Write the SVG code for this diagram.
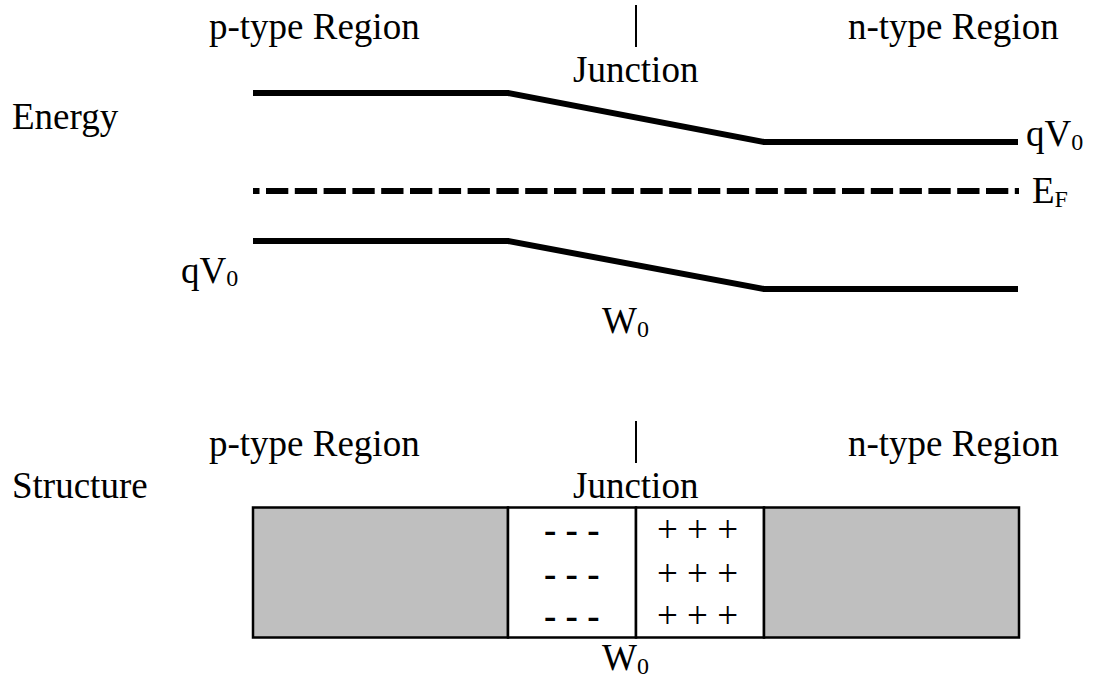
<svg xmlns="http://www.w3.org/2000/svg" width="1094" height="678" viewBox="0 0 1094 678">
  <style>
    .t { font-family: "Liberation Serif", "Times New Roman", serif; font-size: 37px; fill: #000; }
    .sub { font-size: 24px; }
    .neg { font-weight: bold; }
    .band { stroke: #000; stroke-width: 6; fill: none; stroke-linejoin: miter; }
    .ef { stroke: #000; stroke-width: 6; fill: none; stroke-dasharray: 22.3 6.5; stroke-dashoffset: 15.8; }
    .tick { stroke: #000; stroke-width: 2; }
    .cell { stroke: #000; stroke-width: 2.5; }
    .bulk { fill: #bfbfbf; }
    .dep { fill: #fff; }
  </style>

  <!-- Band diagram -->
  <g id="energy-labels">
    <text class="t" x="209" y="39">p-type Region</text>
    <text class="t" x="848" y="39">n-type Region</text>
    <line class="tick" x1="636" y1="5" x2="636" y2="47"/>
    <text class="t" x="573" y="82">Junction</text>
    <text class="t" x="12" y="129">Energy</text>
  </g>

  <g id="conduction-band">
    <polyline class="band" points="253,93 508,93 764,142 1018,142"/>
    <text class="t" x="1026" y="146">qV<tspan class="sub" dy="4">0</tspan></text>
  </g>

  <g id="fermi-level">
    <line class="ef" x1="253" y1="191" x2="1019" y2="191"/>
    <text class="t" x="1032" y="203">E<tspan class="sub" dy="4">F</tspan></text>
  </g>

  <g id="valence-band">
    <polyline class="band" points="253,241 508,241 764,289 1018,289"/>
    <text class="t" x="181" y="283">qV<tspan class="sub" dy="3">0</tspan></text>
    <text class="t" x="602" y="333">W<tspan class="sub" dy="4">0</tspan></text>
  </g>

  <!-- Physical structure -->
  <g id="structure-labels">
    <text class="t" x="209" y="456">p-type Region</text>
    <text class="t" x="848" y="456">n-type Region</text>
    <line class="tick" x1="636" y1="421" x2="636" y2="463"/>
    <text class="t" x="573" y="498">Junction</text>
    <text class="t" x="12" y="498">Structure</text>
  </g>

  <g id="p-bulk">
    <rect class="cell bulk" x="253" y="507.5" width="255" height="130"/>
  </g>

  <g id="p-depletion">
    <rect class="cell dep" x="508" y="507.5" width="128" height="130"/>
    <text class="t neg" x="544" y="542">- - -</text>
    <text class="t neg" x="544" y="586">- - -</text>
    <text class="t neg" x="544" y="628">- - -</text>
  </g>

  <g id="n-depletion">
    <rect class="cell dep" x="636" y="507.5" width="128" height="130"/>
    <text class="t" x="657" y="542">+ + +</text>
    <text class="t" x="657" y="586">+ + +</text>
    <text class="t" x="657" y="628">+ + +</text>
  </g>

  <g id="n-bulk">
    <rect class="cell bulk" x="764" y="507.5" width="255" height="130"/>
  </g>

  <g id="width-label">
    <text class="t" x="602" y="670">W<tspan class="sub" dy="4">0</tspan></text>
  </g>
</svg>
